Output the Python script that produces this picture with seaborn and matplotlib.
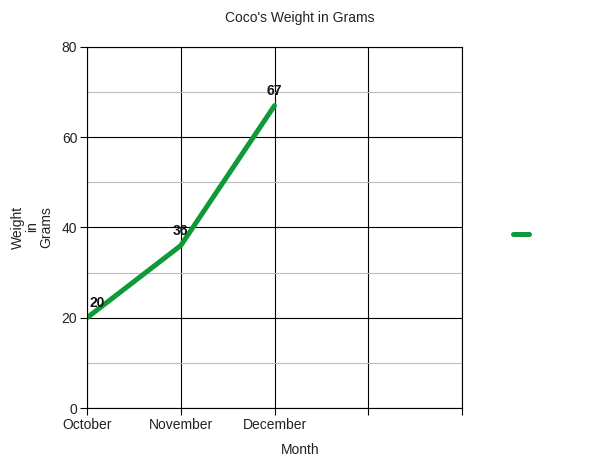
import matplotlib
matplotlib.use("Agg")
import matplotlib.pyplot as plt
import seaborn as sns
import pandas as pd
from matplotlib.lines import Line2D
from matplotlib.ticker import MultipleLocator

months = ["October", "November", "December"]
weights = [20, 36, 67]
x_slots = ["October", "November", "December", "", ""]

sns.set_theme(style="white")
plt.rcParams['font.family'] = ['Liberation Sans', 'DejaVu Sans']

GREEN = "#0f9a3a"
df = pd.DataFrame({"pos": range(len(months)), "Month": months, "Weight": weights})

fig = plt.figure(figsize=(6, 4.63), dpi=100)
ax = fig.add_axes([87/600, 1-408/463, (462-87)/600, (408-47)/463])

sns.lineplot(data=df, x="pos", y="Weight", ax=ax, color=GREEN, linewidth=3.6,
             solid_capstyle="round", legend=False)

ax.set_xlim(0, len(x_slots) - 1)
ax.set_ylim(0, 80)
ax.set_xticks(range(len(x_slots)))
ax.set_xticklabels(x_slots)
ax.yaxis.set_major_locator(MultipleLocator(20))
ax.yaxis.set_minor_locator(MultipleLocator(10))
ax.grid(which="minor", axis="y", color="#bbbbbb", linewidth=0.8)
ax.grid(which="major", axis="both", color="black", linewidth=0.8)
ax.set_axisbelow(True)
for s in ax.spines.values():
    s.set_color("black")
    s.set_linewidth(0.8)
ax.tick_params(axis="both", which="major", length=5, width=0.8, color="black",
               labelsize=10, labelcolor="#222222", bottom=True, left=True)
ax.tick_params(axis="y", which="minor", length=0)
ax.tick_params(axis="x", pad=2)
ax.tick_params(axis="y", pad=2)
ax.set_xlabel("")
ax.set_ylabel("")

for i, (m, w) in enumerate(zip(months, weights)):
    if i == 0:
        ax.annotate(str(w), (i, w), xytext=(2, 5.5), textcoords="offset points",
                    ha="left", va="bottom", fontsize=10, fontweight="bold", color="#111111")
    else:
        ax.annotate(str(w), (i, w), xytext=(0, 5.5), textcoords="offset points",
                    ha="center", va="bottom", fontsize=10, fontweight="bold", color="#111111")

fig.text(0.5, 1-18/463, "Coco's Weight in Grams", ha="center", va="center", fontsize=10, color="#222222")
fig.text(300/600, 1-450/463, "Month", ha="center", va="center", fontsize=10, color="#222222")
fig.text(32/600, 1-227/463, "Weight\nin\nGrams", ha="center", va="center", rotation=90,
         fontsize=10, color="#222222", multialignment="center", linespacing=1.0)

handle = Line2D([], [], color=GREEN, linewidth=3.6, solid_capstyle="round")
fig.legend(handles=[handle], labels=[""], loc="center", bbox_to_anchor=(521/600, 1-235/463),
           frameon=False, handlelength=1.1, handletextpad=0)

fig.savefig("out.png", dpi=100)
